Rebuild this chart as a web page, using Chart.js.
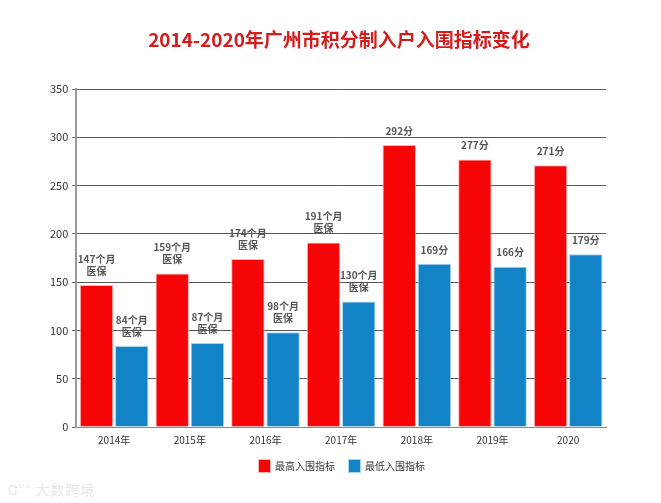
<!DOCTYPE html>
<html>
<head>
<meta charset="utf-8">
<script src="https://cdn.jsdelivr.net/npm/chart.js@4.4.0/dist/chart.umd.min.js"></script>
<style>
  html, body { margin: 0; padding: 0; background: #fff; }
  #wrap { width: 661px; height: 503px; position: relative; }
  #mark { position: absolute; left: 8px; bottom: 4px; font: 14px "Noto Sans CJK SC", sans-serif; color: #e6e6e6; letter-spacing: 1px; }
</style>
</head>
<body>
<div id="wrap">
  <canvas id="chart" width="661" height="503"></canvas>
  <div id="mark">Ꮳ°° 大数跨境</div>
</div>
<script>
// 数据
var years = ["2014年", "2015年", "2016年", "2017年", "2018年", "2019年", "2020"];
var maxValues = [147, 159, 174, 191, 292, 277, 271];
var minValues = [84, 87, 98, 130, 169, 166, 179];
var maxLabels = ["147个月|医保", "159个月|医保", "174个月|医保", "191个月|医保", "292分", "277分", "271分"];
var minLabels = ["84个月|医保", "87个月|医保", "98个月|医保", "130个月|医保", "169分", "166分", "179分"];
var yTicks = [0, 50, 100, 150, 200, 250, 300, 350];
var titleText = "2014-2020年广州市积分制入户入围指标变化";

var fontCN = '"Noto Sans CJK SC", "Noto Sans", sans-serif';

// 标题和图例(手动位置)
var titleDraw = {
  id: "titleDraw",
  afterDraw: function (chart) {
    var ctx = chart.ctx;
    ctx.save();
    ctx.font = "bold 19px " + fontCN;
    ctx.fillStyle = "#d41c1c";
    ctx.textAlign = "center";
    ctx.textBaseline = "middle";
    ctx.fillText(titleText, 339, 40);

    // 图例
    ctx.font = "10px " + fontCN;
    ctx.textAlign = "left";
    var x = 258;
    chart.data.datasets.forEach(function (ds) {
      ctx.fillStyle = ds.backgroundColor;
      ctx.strokeStyle = ds.borderColor;
      ctx.lineWidth = 1;
      ctx.fillRect(x, 459, 13, 14);
      ctx.strokeRect(x + 0.5, 459.5, 12, 13);
      ctx.fillStyle = "#333";
      ctx.fillText(ds.label, x + 17, 466.5);
      x += 90;
    });
    ctx.restore();
  },
};

// 柱顶标签
var barLabels = {
  id: "barLabels",
  afterDatasetsDraw: function (chart) {
    var ctx = chart.ctx;
    var all = [maxLabels, minLabels];
    ctx.save();
    ctx.font = "bold 10px " + fontCN;
    ctx.fillStyle = "#555555";
    ctx.textAlign = "center";
    ctx.textBaseline = "bottom";
    chart.data.datasets.forEach(function (ds, i) {
      var meta = chart.getDatasetMeta(i);
      meta.data.forEach(function (bar, j) {
        var lines = all[i][j].split("|");
        var y = bar.y - 9;
        for (var k = lines.length - 1; k >= 0; k--) {
          ctx.fillText(lines[k], bar.x, y);
          y -= 12;
        }
      });
    });
    ctx.restore();
  },
};

var ctx = document.getElementById("chart").getContext("2d");
var myChart = new Chart(ctx, {
  type: "bar",
  data: {
    labels: years,
    datasets: [
      {
        label: "最高入围指标",
        data: maxValues,
        backgroundColor: "#f50505",
        borderColor: "#ffb3b3",
        borderWidth: 1,
        categoryPercentage: 0.93,
        barPercentage: 0.95,
      },
      {
        label: "最低入围指标",
        data: minValues,
        backgroundColor: "#1383c8",
        borderColor: "#a9d3ee",
        borderWidth: 1,
        categoryPercentage: 0.93,
        barPercentage: 0.95,
      },
    ],
  },
  options: {
    responsive: false,
    animation: false,
    layout: { padding: { left: 46, right: 55, top: 89, bottom: 54 } },
    plugins: {
      title: { display: false },
      legend: { display: false },
      tooltip: { enabled: false },
    },
    scales: {
      x: {
        grid: { display: false, drawTicks: true, tickLength: 4 },
        border: { color: "#888", width: 1 },
        ticks: { color: "#333", font: { size: 10, family: fontCN }, padding: 3 },
      },
      y: {
        min: 0,
        max: 350,
        afterBuildTicks: function (axis) {
          axis.ticks = yTicks.map(function (v) { return { value: v }; });
        },
        grid: { color: "#555", lineWidth: 1, tickLength: 4 },
        border: { color: "#999", width: 2 },
        ticks: { color: "#333", font: { size: 11, family: fontCN }, padding: 4 },
      },
    },
  },
  plugins: [barLabels, titleDraw],
});
</script>
</body>
</html>
